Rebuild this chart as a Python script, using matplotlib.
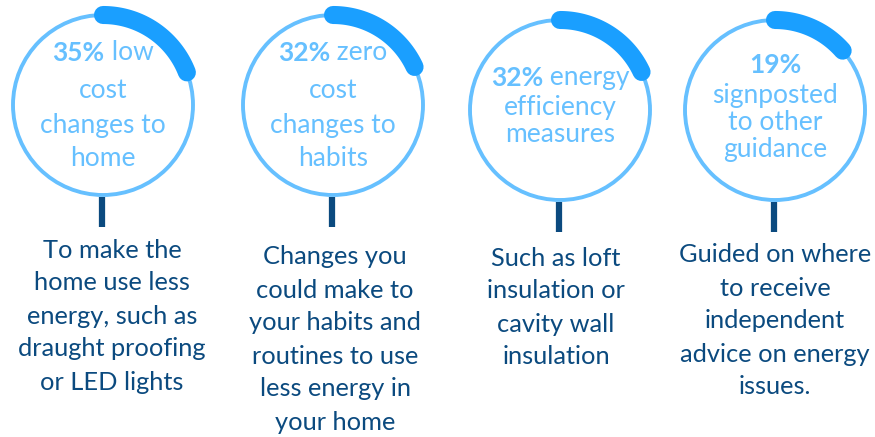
import numpy as np
import matplotlib
matplotlib.use("Agg")
import matplotlib.pyplot as plt
from matplotlib.patches import Circle

plt.rcParams["font.family"] = ["Lato", "DejaVu Sans"]

# share of advice given, per category
percents = [35, 32, 32, 19]
headlines = [
    ["low", "cost", "changes to", "home"],
    ["zero", "cost", "changes to", "habits"],
    ["energy", "efficiency", "measures"],
    ["", "signposted", "to other", "guidance"],
]
details = [
    ["To make the", "home use less", "energy, such as", "draught proofing", "or LED lights"],
    ["Changes you", "could make to", "your habits and", "routines to use", "less energy in", "your home"],
    ["Such as loft", "insulation or", "cavity wall", "insulation"],
    ["Guided on where", "to receive", "independent", "advice on energy", "issues."],
]

# layout in pixel space
centers = [(103, 105), (333, 105), (560, 110), (775, 110)]
radius = 90
head_y = [[53, 90, 125, 158], [53, 90, 125, 158], [78, 107, 135], [65, 95, 122, 150]]
detail_x = [112, 335, 556, 775]
detail_y0 = [250, 257, 258, 255]
detail_step = 33

# gauge scale: degrees of arc per percent
ARC_BASE = 25.0
ARC_PER_PCT = 1.25

LIGHT = "#66c0ff"
ARC = "#1a9fff"
NAVY = "#0b4a7f"
HEAD_SIZE = 19
DETAIL_SIZE = 18.3

fig = plt.figure(figsize=(8.75, 4.37), dpi=100)
ax = fig.add_axes([0, 0, 1, 1])
ax.set_xlim(0, 875)
ax.set_ylim(437, 0)
ax.set_aspect("equal")
ax.axis("off")
renderer = fig.canvas.get_renderer()


def mixed_line(x, y, bold, rest, size, color):
    # bold lead-in followed by regular text, centred as one line
    t1 = ax.text(0, y, bold, fontsize=size, fontweight="bold", color=color, va="center", ha="left")
    t2 = ax.text(0, y, rest, fontsize=size, color=color, va="center", ha="left")
    w1 = t1.get_window_extent(renderer).width
    w2 = t2.get_window_extent(renderer).width if rest else 0
    start = x - (w1 + w2) / 2
    t1.set_x(start)
    t2.set_x(start + w1)


for i, pct in enumerate(percents):
    cx, cy = centers[i]
    ax.add_patch(Circle((cx, cy), radius, fill=False, ec=LIGHT, lw=2.8))

    sweep = np.radians(ARC_BASE + pct * ARC_PER_PCT)
    th = np.linspace(0, sweep, 80)
    ax.plot(cx + radius * np.sin(th), cy - radius * np.cos(th),
            color=ARC, lw=13, solid_capstyle="round")

    # stem to the description
    ax.plot([cx - 1, cx - 1], [cy + radius + 2, cy + radius + 32],
            color=NAVY, lw=4.5, solid_capstyle="butt")

    lines = headlines[i]
    for j, line in enumerate(lines):
        if j == 0:
            rest = (" " + line) if line else line
            mixed_line(cx, head_y[i][j], f"{pct}%", rest, HEAD_SIZE, LIGHT)
        else:
            ax.text(cx, head_y[i][j], line, fontsize=HEAD_SIZE, color=LIGHT, ha="center", va="center")

    for j, line in enumerate(details[i]):
        ax.text(detail_x[i], detail_y0[i] + j * detail_step, line, fontsize=DETAIL_SIZE,
                color=NAVY, ha="center", va="center")

fig.savefig("out.png", dpi=100)
